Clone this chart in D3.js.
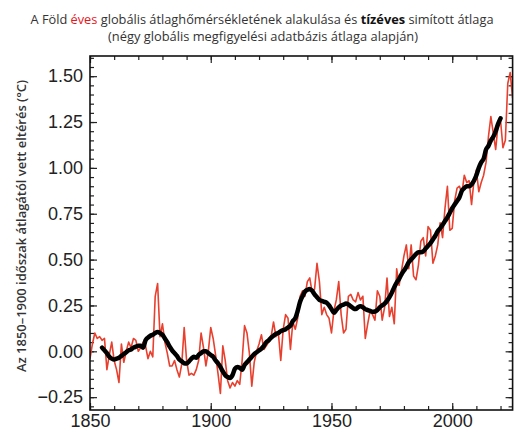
<!DOCTYPE html>
<html>
<head>
<meta charset="utf-8">
<script src="https://cdn.jsdelivr.net/npm/d3@7"></script>
<style>
  body { margin: 0; background: #fff; }
  svg { display: block; }
  .tick text { font-family: "Liberation Sans", Arial, sans-serif; fill: #222; }
</style>
</head>
<body>
<svg class="chart" width="515" height="432"></svg>
<script>
// annual global mean temperature anomaly vs 1850-1900 (red line)
const annualStart = 1850;
const annualValues = [
  -0.04, 0.04, 0.10, 0.07, 0.08, 0.06, 0.07, -0.10, -0.02, 0.05,   // 1850s
  -0.05, -0.10, -0.17, 0.04, -0.06, 0.00, 0.05, 0.02, 0.07, 0.06,  // 1860s
  0.00, 0.02, 0.05, 0.03, -0.04, 0.00, -0.03, 0.30, 0.37, 0.08,    // 1870s
  0.15, 0.05, -0.01, -0.08, -0.08, -0.05, -0.10, -0.14, -0.07, 0.13, // 1880s
  -0.05, -0.13, -0.12, -0.13, -0.10, -0.05, 0.10, 0.02, -0.08, 0.00, // 1890s
  0.13, 0.07, -0.02, -0.12, -0.23, 0.03, -0.05, -0.16, -0.20, -0.17, // 1900s
  -0.19, -0.16, -0.18, -0.05, 0.14, 0.10, -0.01, -0.19, -0.06, 0.00, // 1910s
  0.04, 0.09, 0.01, 0.03, 0.05, 0.08, 0.16, 0.08, 0.10, -0.05,     // 1920s
  0.12, 0.20, 0.18, 0.01, 0.16, 0.12, 0.18, 0.30, 0.33, 0.30,      // 1930s
  0.38, 0.40, 0.32, 0.34, 0.48, 0.38, 0.20, 0.24, 0.20, 0.18,      // 1940s
  0.10, 0.22, 0.28, 0.38, 0.20, 0.10, 0.12, 0.30, 0.31, 0.28,      // 1950s
  0.27, 0.32, 0.28, 0.30, 0.07, 0.15, 0.22, 0.20, 0.17, 0.33,      // 1960s
  0.30, 0.17, 0.24, 0.40, 0.19, 0.24, 0.15, 0.45, 0.36, 0.44,      // 1970s
  0.52, 0.58, 0.45, 0.58, 0.41, 0.39, 0.47, 0.60, 0.62, 0.52,      // 1980s
  0.68, 0.66, 0.48, 0.52, 0.58, 0.70, 0.62, 0.78, 0.90, 0.66,      // 1990s
  0.67, 0.82, 0.89, 0.90, 0.86, 0.96, 0.92, 0.93, 0.80, 0.93,      // 2000s
  0.99, 0.87, 0.92, 0.96, 1.03, 1.17, 1.28, 1.19, 1.10, 1.24,      // 2010s
  1.26, 1.11, 1.15, 1.46, 1.52, 1.38                               // 2020s
];

// ten-year smoothed average (black line)
const smoothStart = 1855;
const smoothValues = [
  0.020, 0.005, -0.010, -0.030, -0.040,                                 // 1855-59
  -0.045, -0.040, -0.035, -0.025, -0.015, -0.005, 0.005, 0.010, 0.020, 0.025, // 1860s
  0.030, 0.030, 0.020, 0.060, 0.075, 0.085, 0.090, 0.100, 0.105, 0.100,       // 1870s
  0.090, 0.070, 0.050, 0.025, 0.005, -0.010, -0.025, -0.045, -0.055, -0.065,  // 1880s
  -0.067, -0.055, -0.040, -0.030, -0.035, -0.020, -0.010, 0.000, 0.000, -0.010, // 1890s
  -0.020, -0.030, -0.050, -0.065, -0.085, -0.110, -0.130, -0.140, -0.145, -0.130, // 1900s
  -0.095, -0.085, -0.090, -0.100, -0.075, -0.060, -0.045, -0.030, -0.015, -0.005, // 1910s
  0.005, 0.015, 0.030, 0.050, 0.060, 0.075, 0.085, 0.095, 0.100, 0.110,       // 1920s
  0.115, 0.120, 0.130, 0.140, 0.165, 0.180, 0.220, 0.270, 0.300, 0.325,       // 1930s
  0.335, 0.340, 0.330, 0.310, 0.295, 0.280, 0.275, 0.270, 0.265, 0.250,       // 1940s
  0.230, 0.210, 0.225, 0.240, 0.250, 0.255, 0.260, 0.255, 0.245, 0.235,       // 1950s
  0.230, 0.240, 0.245, 0.240, 0.230, 0.225, 0.220, 0.215, 0.217, 0.225,       // 1960s
  0.240, 0.250, 0.260, 0.275, 0.295, 0.320, 0.350, 0.375, 0.395, 0.420,       // 1970s
  0.440, 0.460, 0.485, 0.500, 0.515, 0.530, 0.540, 0.540, 0.545, 0.560,       // 1980s
  0.575, 0.590, 0.610, 0.630, 0.655, 0.670, 0.690, 0.710, 0.730, 0.755,       // 1990s
  0.780, 0.800, 0.820, 0.840, 0.875, 0.890, 0.900, 0.900, 0.910, 0.930,       // 2000s
  0.960, 1.000, 1.030, 1.050, 1.100, 1.120, 1.150, 1.170, 1.200, 1.240,       // 2010s
  1.270                                                                        // 2020
];

const yTickValues = [-0.25, 0, 0.25, 0.5, 0.75, 1.0, 1.25, 1.5];
const xTickValues = [1850, 1900, 1950, 2000];

const titleLine1 = [
  {text: "A Föld ", color: "#333", weight: "normal"},
  {text: "éves", color: "#e8141c", weight: "normal"},
  {text: " globális átlaghőmérsékletének alakulása és ", color: "#333", weight: "normal"},
  {text: "tízéves", color: "#111", weight: "bold"},
  {text: " simított átlaga", color: "#333", weight: "normal"}
];
const titleLine2 = "(négy globális megfigyelési adatbázis átlaga alapján)";
const yLabel = "Az 1850–1900 időszak átlagától vett eltérés (°C)";

const annual = annualValues.map((v, i) => ({year: annualStart + i, value: v}));
const smooth = smoothValues.map((v, i) => ({year: smoothStart + i, value: v}));

render(annual, smooth);

function render(annualData, smoothData)
{
    const plot = {left: 90, right: 512.6, top: 56, bottom: 410};
    const svg = d3.select('.chart');

    const xScale = d3.scaleLinear()
        .domain([1850, 2025])
        .range([plot.left, plot.right]);

    const yScale = d3.scaleLinear()
        .domain([-0.32, 1.61])
        .range([plot.bottom, plot.top]);

    // title
    const title = svg.append('text')
        .attr('x', 262)
        .attr('y', 24)
        .attr('text-anchor', 'middle')
        .attr('textLength', 463)
        .attr('lengthAdjust', 'spacingAndGlyphs')
        .style('font-family', '"Open Sans", sans-serif')
        .style('font-size', '13px');
    for(part of titleLine1){
        title.append('tspan')
            .attr('fill', part.color)
            .attr('font-weight', part.weight)
            .text(part.text);
    }
    svg.append('text')
        .attr('x', 263)
        .attr('y', 41)
        .attr('text-anchor', 'middle')
        .attr('textLength', 310)
        .attr('lengthAdjust', 'spacingAndGlyphs')
        .style('font-family', '"Open Sans", sans-serif')
        .style('font-size', '13px')
        .attr('fill', '#333')
        .text(titleLine2);

    // y axis label
    svg.append('text')
        .attr('transform', `translate(26, ${(plot.top + plot.bottom) / 2 - 7}) rotate(-90)`)
        .attr('text-anchor', 'middle')
        .attr('textLength', 292)
        .attr('lengthAdjust', 'spacingAndGlyphs')
        .style('font-family', '"Open Sans", sans-serif')
        .style('font-size', '12.5px')
        .style('font-weight', '600')
        .attr('fill', '#333')
        .text(yLabel);

    const fmt = d3.format('.2f');
    const minorY = d3.range(-0.30, 1.601, 0.05).map(v => Math.round(v * 100) / 100);
    const minorX = d3.range(1850, 2025, 10);

    // left axis (labels + major ticks)
    svg.append('g')
        .attr('class', 'y-axis')
        .attr('transform', `translate(${plot.left},0)`)
        .call(d3.axisLeft(yScale)
            .tickValues(yTickValues)
            .tickFormat(fmt)
            .tickSize(-7)
            .tickPadding(7))
        .call(g => g.selectAll('text').style('font-size', '18px'));
    svg.append('g')
        .attr('transform', `translate(${plot.left},0)`)
        .call(d3.axisLeft(yScale).tickValues(minorY).tickFormat('').tickSize(-4));

    // right axis ticks
    svg.append('g')
        .attr('transform', `translate(${plot.right},0)`)
        .call(d3.axisRight(yScale).tickValues(yTickValues).tickFormat('').tickSize(-7));
    svg.append('g')
        .attr('transform', `translate(${plot.right},0)`)
        .call(d3.axisRight(yScale).tickValues(minorY).tickFormat('').tickSize(-4));

    // bottom axis
    svg.append('g')
        .attr('class', 'x-axis')
        .attr('transform', `translate(0,${plot.bottom})`)
        .call(d3.axisBottom(xScale)
            .tickValues(xTickValues)
            .tickFormat(d3.format('d'))
            .tickSize(-7)
            .tickPadding(4))
        .call(g => g.selectAll('text').style('font-size', '18px'));
    svg.append('g')
        .attr('transform', `translate(0,${plot.bottom})`)
        .call(d3.axisBottom(xScale).tickValues(minorX).tickFormat('').tickSize(-4));

    // top axis ticks
    svg.append('g')
        .attr('transform', `translate(0,${plot.top})`)
        .call(d3.axisTop(xScale).tickValues(xTickValues).tickFormat('').tickSize(-7));
    svg.append('g')
        .attr('transform', `translate(0,${plot.top})`)
        .call(d3.axisTop(xScale).tickValues(minorX).tickFormat('').tickSize(-4));

    svg.selectAll('.domain').remove();
    svg.selectAll('.tick line').attr('stroke', '#222').attr('stroke-width', 1.2);

    svg.append('clipPath')
        .attr('id', 'plot-clip')
        .append('rect')
        .attr('x', plot.left)
        .attr('y', plot.top)
        .attr('width', plot.right - plot.left)
        .attr('height', plot.bottom - plot.top);

    const line = d3.line()
        .x(d => xScale(d.year))
        .y(d => yScale(d.value));

    svg.append('path')
        .datum(annualData)
        .attr('clip-path', 'url(#plot-clip)')
        .attr('fill', 'none')
        .attr('stroke', '#e8402e')
        .attr('stroke-width', 1.6)
        .attr('stroke-linejoin', 'round')
        .attr('d', line);

    svg.append('path')
        .datum(smoothData)
        .attr('clip-path', 'url(#plot-clip)')
        .attr('fill', 'none')
        .attr('stroke', '#000')
        .attr('stroke-width', 4.5)
        .attr('stroke-linejoin', 'round')
        .attr('stroke-linecap', 'round')
        .attr('d', line.curve(d3.curveMonotoneX));

    // frame
    svg.append('rect')
        .attr('x', plot.left)
        .attr('y', plot.top)
        .attr('width', plot.right - plot.left)
        .attr('height', plot.bottom - plot.top)
        .attr('fill', 'none')
        .attr('stroke', '#111')
        .attr('stroke-width', 1.6);
}
</script>
</body>
</html>
